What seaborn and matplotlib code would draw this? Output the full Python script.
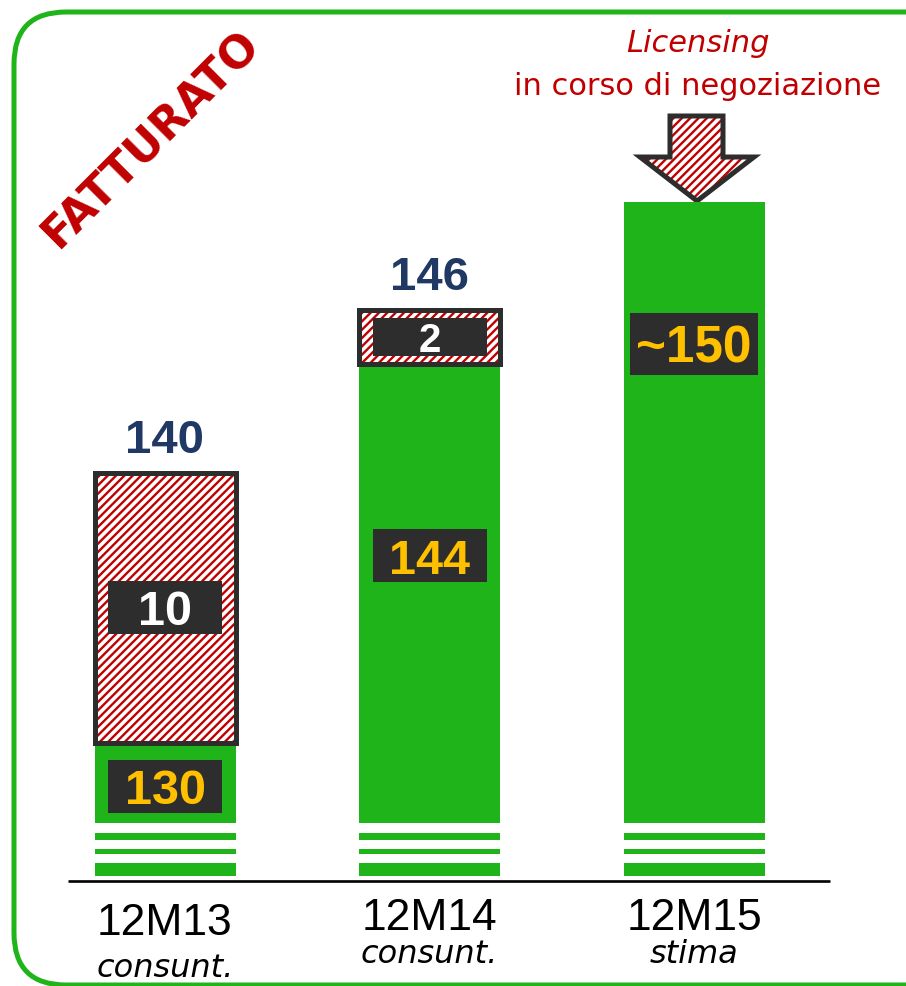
import matplotlib
matplotlib.use("Agg")
import matplotlib.pyplot as plt
import seaborn as sns
import pandas as pd
from matplotlib.patches import FancyBboxPatch, Rectangle, Polygon

# ---------------- data ----------------
periods = ["12M13", "12M14", "12M15"]
period_notes = ["consunt.", "consunt.", "stima"]
core_revenue = [130, 144, 150]          # green part
licensing = [10, 2]                     # hatched part (12M13, 12M14)
total_labels = ["140", "146"]
totals = [140, 146]
core_labels = ["130", "144", "~150"]
licensing_labels = ["10", "2"]
title_text = "FATTURATO"
note_line1 = "Licensing"
note_line2 = "in corso di negoziazione"

# ---------------- style ----------------
sns.set_style("white")
plt.rcParams["font.family"] = ["DejaVu Sans"]
plt.rcParams["hatch.linewidth"] = 1.7

GREEN = "#1EB41A"
RED = "#C00000"
DARK = "#2D2D2D"
NAVY = "#1F3864"
YELLOW = "#FFC000"
NARROW = ["Liberation Sans Narrow", "Liberation Sans", "DejaVu Sans"]

W, H = 906, 986
fig = plt.figure(figsize=(W / 100, H / 100), dpi=100)
fig.patch.set_facecolor("white")

# background axes in pixel coordinates (decorations)
bg = fig.add_axes([0, 0, 1, 1])
bg.set_xlim(0, W)
bg.set_ylim(H, 0)
bg.axis("off")

# mapping of the main axes (pixel <-> data)
X0, DX = 165.0, 264.5            # category 0 centre / category spacing in px
V0, Y0, S = 141.5, 432.0, 27.07  # value V0 at pixel Y0, px per unit
AX_BOTTOM = 876


def Xd(px):
    return (px - X0) / DX


def Yd(px):
    return V0 - (px - Y0) / S


def Yp(v):
    return Y0 - (v - V0) * S


ax = fig.add_axes([0, 1 - AX_BOTTOM / H, 1, AX_BOTTOM / H])
ax.set_facecolor("none")

BAR_W = 141 / DX

df_core = pd.DataFrame({"period": periods, "value": core_revenue})
sns.barplot(data=df_core, x="period", y="value", order=periods, color=GREEN,
            saturation=1, width=BAR_W, linewidth=0, errorbar=None, ax=ax,
            zorder=2)

df_lic = pd.DataFrame({"period": periods[:2], "value": licensing})
sns.barplot(data=df_lic, x="period", y="value", order=periods, color="white",
            saturation=1, edgecolor=RED, hatch="////", linewidth=0,
            bottom=core_revenue[:2], width=BAR_W, errorbar=None, ax=ax,
            zorder=3)
sns.barplot(data=df_lic, x="period", y="value", order=periods, fill=False,
            color=DARK, saturation=1, linewidth=3.6,
            bottom=core_revenue[:2], width=BAR_W, errorbar=None, ax=ax,
            zorder=4)

ax.set_xlim(Xd(0), Xd(W))
ax.set_ylim(Yd(AX_BOTTOM), Yd(0))
ax.axis("off")

# broken-axis white stripes (only across the bar area)
for top_px, bot_px in [(823, 833), (840, 849), (854, 863)]:
    ax.axhspan(Yd(bot_px), Yd(top_px), xmin=70 / W, xmax=830 / W,
               color="white", lw=0, zorder=5)


def box_label(i, cy_px, text, color, w=114, h=53, fs=35):
    ax.add_patch(Rectangle((i - w / 2 / DX, Yd(cy_px) - h / 2 / S), w / DX, h / S,
                           fc=DARK, ec="none", zorder=6, clip_on=False))
    cap = fs * 100 / 72 * 0.72
    ax.text(i, Yd(cy_px + cap / 2), text, color=color, ha="center",
            va="baseline", fontsize=fs, fontweight="bold", family=NARROW,
            zorder=7, clip_on=False)


# core labels
core_centres = [787, 556, 344]
for i, lab in enumerate(core_labels):
    if lab.startswith("~"):
        box_label(i, core_centres[i], lab, YELLOW, w=128, h=62, fs=37)
    else:
        box_label(i, core_centres[i], lab, YELLOW)

# licensing labels
for i, lab in enumerate(licensing_labels):
    mid = Yp(core_revenue[i] + licensing[i] / 2)
    seg_h = licensing[i] * S
    h = min(53, seg_h - 16)
    fs = 35 if h >= 50 else 29
    box_label(i, mid, lab, "white", w=114, h=h, fs=fs)

# totals above bars
for i, lab in enumerate(total_labels):
    ax.annotate(lab, (i, totals[i]), xytext=(0, 20 * 0.72),
                textcoords="offset points", ha="center", va="baseline",
                fontsize=34, fontweight="bold", family=NARROW, color=NAVY,
                annotation_clip=False, zorder=7)

# category labels
label_base = [935, 930, 930]
note_base = [977, 963, 963]
for i, (p, n) in enumerate(zip(periods, period_notes)):
    ax.text(i, Yd(label_base[i]), p, ha="center", va="baseline", fontsize=32,
            family=NARROW, color="black", clip_on=False)
    ax.text(i, Yd(note_base[i]), n, ha="center", va="baseline", fontsize=23,
            style="italic", color="black", clip_on=False)

# ---------------- decorations (pixel axes) ----------------
border = FancyBboxPatch((14, 12), 946, 973,
                        boxstyle="round,pad=0,rounding_size=52",
                        fc="none", ec=GREEN, lw=3.6, clip_on=False)
bg.add_patch(border)
bg.plot([68, 830], [881, 881], color="black", lw=1.9, solid_capstyle="butt")

bg.text(151, 139, title_text, rotation=45, rotation_mode="anchor",
        ha="center", va="center", fontsize=32, fontweight="bold", color=RED)

bg.text(698, 52, note_line1, ha="center", va="baseline", fontsize=22,
        style="italic", color=RED)
bg.text(698, 95, note_line2, ha="center", va="baseline", fontsize=22,
        color=RED)

arrow_pts = [(670, 116), (723, 116), (723, 157), (754, 157), (697, 201),
             (640, 157), (670, 157)]
bg.add_patch(Polygon(arrow_pts, closed=True, fc="white", ec=RED, hatch="////",
                     lw=0))
bg.add_patch(Polygon(arrow_pts, closed=True, fill=False, ec=DARK, lw=3.6,
                     joinstyle="miter"))

fig.savefig("out.png", dpi=100, facecolor="white")
